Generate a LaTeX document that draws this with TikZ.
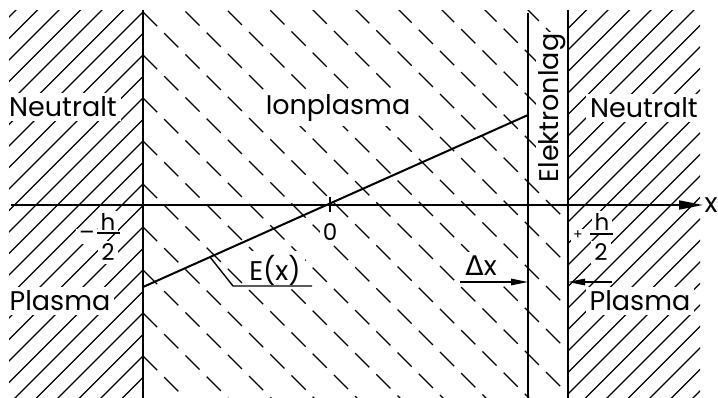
\documentclass[tikz,border=0pt]{standalone}
\usepackage{fontspec}
\setmainfont{Poppins}
\newfontfamily\dejavu{DejaVu Sans}
\usetikzlibrary{arrows.meta}
\begin{document}
\begin{tikzpicture}[x=1pt,y=-1pt,
  hatch/.style={line width=1.35pt},
  dhatch/.style={line width=1.35pt, dash pattern=on 20pt off 10pt},
  bound/.style={line width=2pt},
  thin line/.style={line width=1.4pt},
  lbl/.style={font=\fontsize{27}{30}\selectfont, fill=white, inner sep=4pt, anchor=base},
  slbl/.style={font=\fontsize{23}{26}\selectfont, fill=white, inner sep=3pt, anchor=base},
  tip/.style={-{Triangle[length=17pt,width=6.5pt]}}
]
\useasboundingbox (0,0) rectangle (718,398);

% coordinates
\coordinate (Ltop) at (143,10);
\coordinate (Lbot) at (143,398);
\coordinate (Mtop) at (528,13);
\coordinate (Mbot) at (528,398);
\coordinate (Rtop) at (568,10);
\coordinate (Rbot) at (568,398);
\coordinate (axL) at (11,205);
\coordinate (axR) at (703,205);
\coordinate (Ea) at (143,287);
\coordinate (Eb) at (528,115);
\coordinate (Ot) at (330,197);
\coordinate (Ob) at (330,212);
\coordinate (ldA) at (210,257);
\coordinate (ldB) at (233,286);
\coordinate (ldC) at (312,286);
\coordinate (dxA) at (460,282);
\coordinate (dxB) at (528,282);
\coordinate (plA) at (612,282);
\coordinate (plB) at (568,282);

% left solid hatching
\begin{scope}
\clip (9,11) rectangle (143,398);
\foreach \k in {-8,...,20} {
  \pgfmathsetmacro\c{155+21.5*\k}
  \draw[hatch] (\c-420,420) -- (\c+20,-20);
}
\end{scope}

% right solid hatching
\begin{scope}
\clip (568,11) rectangle (700,398);
\foreach \k in {-1,...,26} {
  \pgfmathsetmacro\c{575+21.5*\k}
  \draw[hatch] (\c-420,420) -- (\c+20,-20);
}
\end{scope}

% middle dashed hatching
\begin{scope}
\clip (143,11) rectangle (568,398);
\foreach \k in {-11,...,10} {
  \pgfmathsetmacro\c{-131+43*\k}
  \draw[dhatch] (143,143+\c) -- (743,743+\c);
}
\end{scope}

% labels (white background interrupts hatching)
\node[lbl] (nl) at (63,117) {Neutralt};
\node[lbl] (pl) at (60,311) {Plasma};
\node[lbl] (ion) at (338,115) {Ionplasma};
\node[lbl] (nr) at (644,118) {Neutralt};
\node[lbl] (pr) at (640,311) {Plasma};
\node[lbl, rotate=90, inner sep=2pt] (el) at (558,108) {Elektronlag};
\node[slbl] (zero) at (330,241) {0};
\node[lbl] (ex) at (275,280) {E(x)};
\node[lbl] (dx) at (481,276) {{\dejavu Δ}x};
\node[lbl, fill=none] (xl) at (711,213) {x};
% -h/2 (left)
\node[slbl] (minL) at (87,241) {–};
\node[slbl] (hL) at (108,231) {h};
\node[slbl] (twoL) at (108,261) {2};
% +h/2 (right)
\node[font=\fontsize{14}{16}\selectfont, fill=white, inner sep=2pt, anchor=base] (plusR) at (578,240) {+};
\node[slbl] (hR) at (602,231) {h};
\node[slbl] (twoR) at (601,261) {2};

% fraction bars
\draw[thin line] (97,233) -- (120,233);
\draw[thin line] (590,234) -- (613,234);

% boundaries
\draw[bound] (Ltop) -- (Lbot);
\draw[bound] (Mtop) -- (Mbot);
\draw[bound] (Rtop) -- (Rbot);

% x axis
\draw[bound, -{Triangle[length=24pt,width=9pt]}] (axL) -- (axR);
\draw[thin line] (Ot) -- (Ob);

% field line
\draw[bound] (Ea) -- (Eb);
\draw[thin line] (ldA) -- (ldB) -- (ldC);

% delta x arrows
\draw[thin line, tip] (dxA) -- (dxB);
\draw[thin line, tip] (plA) -- (plB);
\end{tikzpicture}
\end{document}
